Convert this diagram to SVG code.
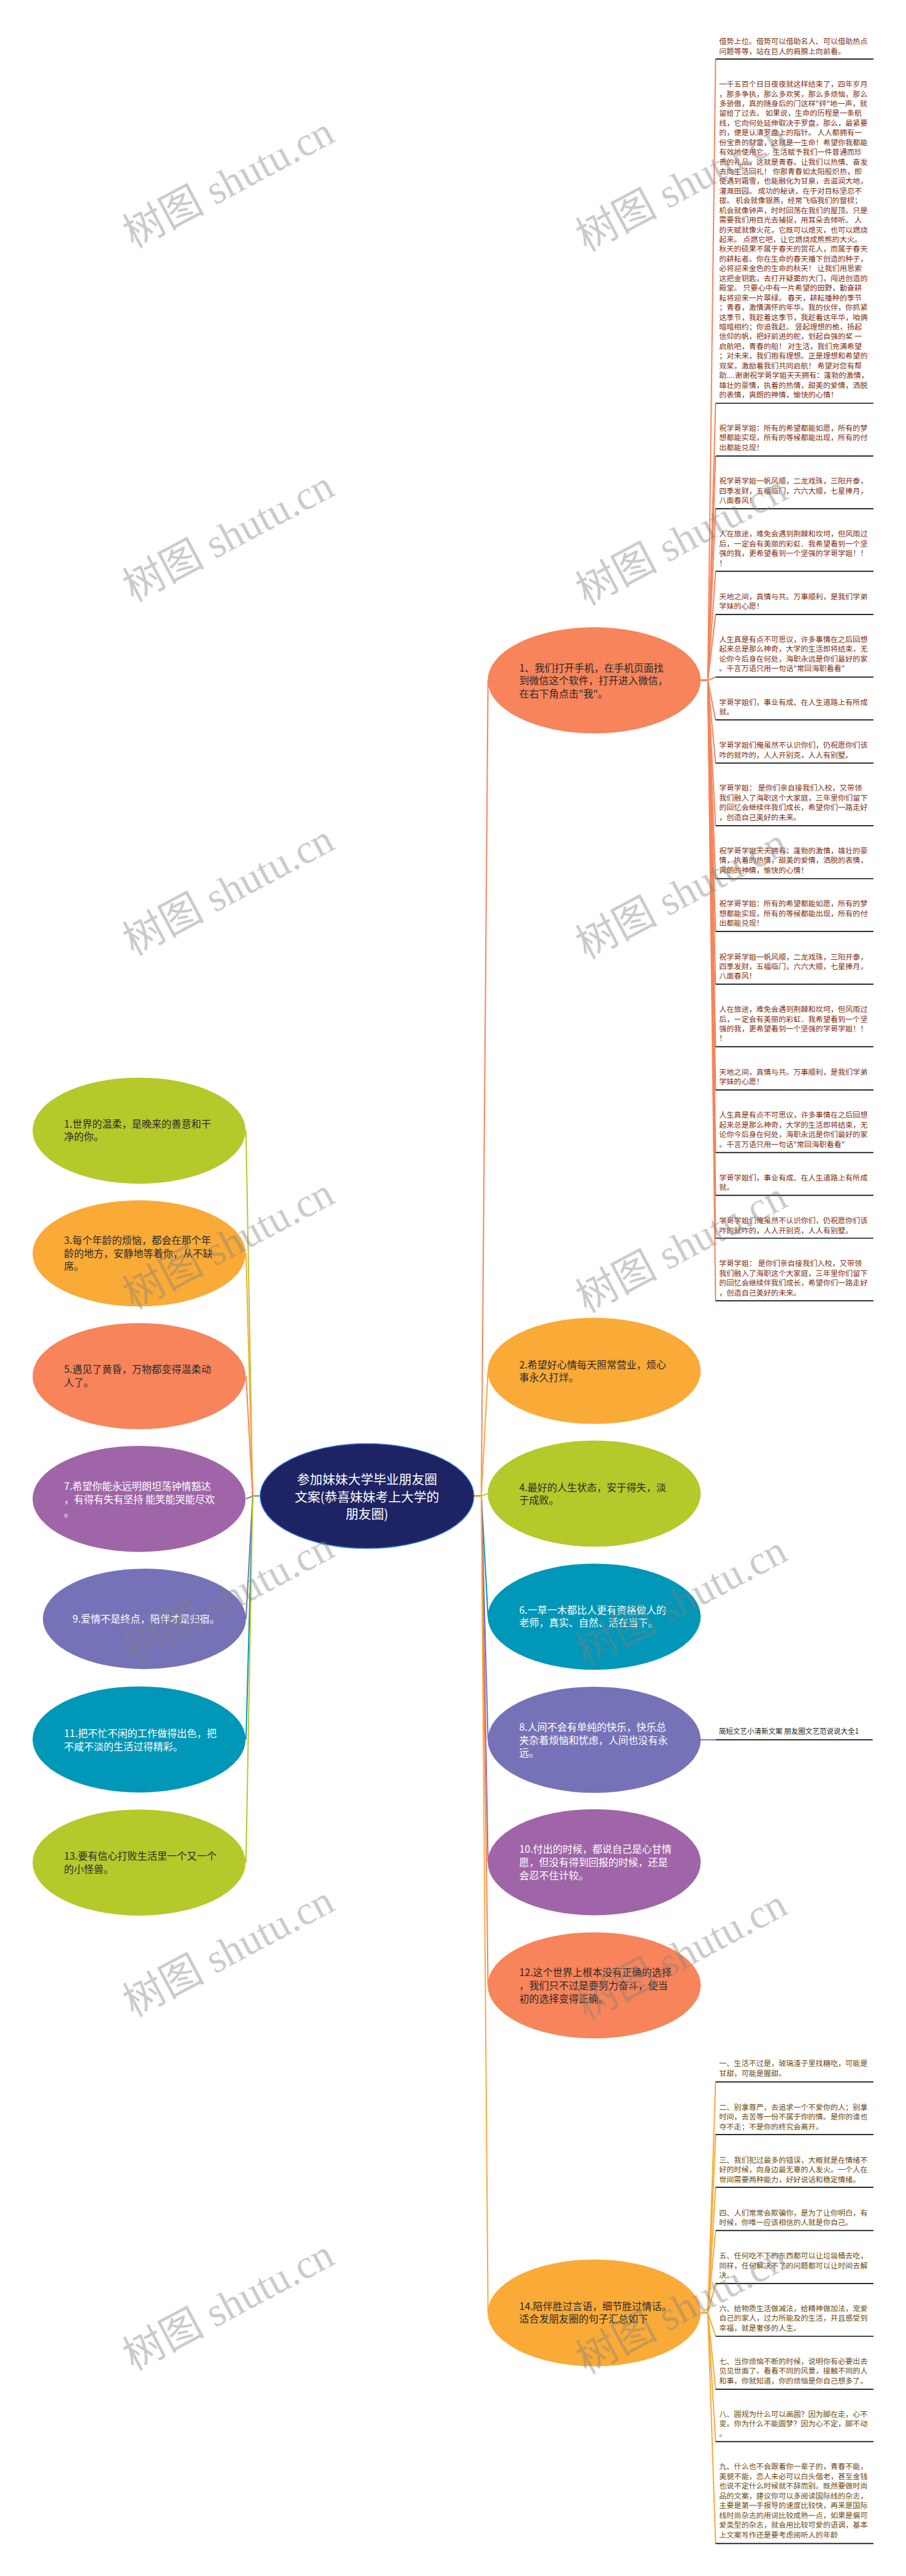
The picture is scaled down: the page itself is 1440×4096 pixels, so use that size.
<svg xmlns="http://www.w3.org/2000/svg" width="1440" height="4096" viewBox="0 0 1440 4096">
<style>
text{font-family:"Noto Sans CJK SC","Noto Sans",sans-serif}
.bx{font-size:21px;fill:#7f2e10}
.bx2{font-size:21px;fill:#6e4a10}
.nd{font-size:28px;fill:#2a2a2a}
.nw{font-size:28px;fill:#ffffff}
.rt{font-size:36px;fill:#ffffff}
.lb{font-size:20px;fill:#222}
.ul{stroke:#111;stroke-width:3}
.cn{fill:none;stroke-width:3.5}
.wm{font-family:"Liberation Serif","Noto Sans CJK SC",serif;font-size:116px;fill:#808080;opacity:0.4}
</style>
<rect width="1440" height="4096" fill="#fff"/>
<g transform="scale(0.5625)">
<g id="connectors">
<path class="cn" stroke="#F7845A" d="M1339 4229H1360L1379 1923"/>
<path class="cn" stroke="#FAAA37" d="M1339 4229H1360L1379 3875"/>
<path class="cn" stroke="#B5C92B" d="M1339 4229H1360L1379 4222"/>
<path class="cn" stroke="#0097B8" d="M1339 4229H1360L1379 4570"/>
<path class="cn" stroke="#7672B8" d="M1339 4229H1360L1379 4918"/>
<path class="cn" stroke="#A065A8" d="M1339 4229H1360L1379 5264"/>
<path class="cn" stroke="#F7845A" d="M1339 4229H1360L1379 5612"/>
<path class="cn" stroke="#FAAA37" d="M1339 4229H1360L1379 6538"/>
<path class="cn" stroke="#B5C92B" d="M734 4229H714L695 3196"/>
<path class="cn" stroke="#FAAA37" d="M734 4229H714L695 3543"/>
<path class="cn" stroke="#F7845A" d="M734 4229H714L695 3890"/>
<path class="cn" stroke="#A065A8" d="M734 4229H714L695 4237"/>
<path class="cn" stroke="#7672B8" d="M734 4229H714L695 4576"/>
<path class="cn" stroke="#0097B8" d="M734 4229H714L695 4917"/>
<path class="cn" stroke="#B5C92B" d="M734 4229H714L695 5265"/>
<g stroke="#F7845A" class="cn">
<path d="M1981 1923H2000L2022 167"/>
<path d="M1981 1923H2000L2022 1140"/>
<path d="M1981 1923H2000L2022 1289"/>
<path d="M1981 1923H2000L2022 1438"/>
<path d="M1981 1923H2000L2022 1615"/>
<path d="M1981 1923H2000L2022 1737"/>
<path d="M1981 1923H2000L2022 1914"/>
<path d="M1981 1923H2000L2022 2035"/>
<path d="M1981 1923H2000L2022 2157"/>
<path d="M1981 1923H2000L2022 2334"/>
<path d="M1981 1923H2000L2022 2484"/>
<path d="M1981 1923H2000L2022 2633"/>
<path d="M1981 1923H2000L2022 2782"/>
<path d="M1981 1923H2000L2022 2959"/>
<path d="M1981 1923H2000L2022 3081"/>
<path d="M1981 1923H2000L2022 3258"/>
<path d="M1981 1923H2000L2022 3379"/>
<path d="M1981 1923H2000L2022 3500"/>
<path d="M1981 1923H2000L2022 3677"/>
</g>
<g stroke="#FAAA37" class="cn">
<path d="M1979 6538H2000L2022 5885"/>
<path d="M1979 6538H2000L2022 6034"/>
<path d="M1979 6538H2000L2022 6183"/>
<path d="M1979 6538H2000L2022 6305"/>
<path d="M1979 6538H2000L2022 6455"/>
<path d="M1979 6538H2000L2022 6604"/>
<path d="M1979 6538H2000L2022 6754"/>
<path d="M1979 6538H2000L2022 6902"/>
<path d="M1979 6538H2000L2022 7190"/>
</g>
<path class="cn" stroke="#7672B8" d="M1979 4918H2022"/>
</g>

<g id="root">
<ellipse cx="1037" cy="4229" rx="302" ry="148" fill="#1E2463" stroke="#3477D9" stroke-width="2.5"/>
<text class="rt" text-anchor="middle" x="1037" y="4196">参加妹妹大学毕业朋友圈<tspan x="1037" dy="48.5">文案(恭喜妹妹考上大学的</tspan><tspan x="1037" dy="48.5">朋友圈)</tspan></text>
</g>

<g id="n1"><ellipse cx="1679" cy="1923" rx="301" ry="150" fill="#F7845A"/>
<text class="nd" x="1467" y="1898">1、我们打开手机，在手机页面找<tspan x="1467" dy="36.6">到微信这个软件，打开进入微信，</tspan><tspan x="1467" dy="36.6">在右下角点击"我"。</tspan></text></g>
<g id="n2"><ellipse cx="1679" cy="3875" rx="301" ry="150" fill="#FAAA37"/>
<text class="nd" x="1467" y="3868">2.希望好心情每天照常营业，烦心<tspan x="1467" dy="36">事永久打烊。</tspan></text></g>
<g id="n4"><ellipse cx="1679" cy="4222" rx="301" ry="150" fill="#B5C92B"/>
<text class="nd" x="1467" y="4215">4.最好的人生状态，安于得失，淡<tspan x="1467" dy="36">于成败。</tspan></text></g>
<g id="n6"><ellipse cx="1679" cy="4570" rx="301" ry="150" fill="#0097B8"/>
<text class="nw" x="1467" y="4562">6.一草一木都比人更有资格做人的<tspan x="1467" dy="36">老师，真实、自然、活在当下。</tspan></text></g>
<g id="n8"><ellipse cx="1679" cy="4918" rx="301" ry="150" fill="#7672B8"/>
<text class="nw" x="1467" y="4893">8.人间不会有单纯的快乐，快乐总<tspan x="1467" dy="36">夹杂着烦恼和忧虑，人间也没有永</tspan><tspan x="1467" dy="36">远。</tspan></text></g>
<g id="n10"><ellipse cx="1679" cy="5264" rx="301" ry="150" fill="#A065A8"/>
<text class="nw" x="1467" y="5238">10.付出的时候，都说自己是心甘情<tspan x="1467" dy="37">愿，但没有得到回报的时候，还是</tspan><tspan x="1467" dy="37">会忍不住计较。</tspan></text></g>
<g id="n12"><ellipse cx="1679" cy="5612" rx="301" ry="150" fill="#F7845A"/>
<text class="nd" x="1467" y="5586">12.这个世界上根本没有正确的选择<tspan x="1467" dy="37">，我们只不过是要努力奋斗，使当</tspan><tspan x="1467" dy="37">初的选择变得正确。</tspan></text></g>
<g id="n14"><ellipse cx="1679" cy="6538" rx="301" ry="151" fill="#FAAA37"/>
<text class="nd" x="1467" y="6529">14.陪伴胜过言语，细节胜过情话。<tspan x="1467" dy="36">适合发朋友圈的句子汇总如下</tspan></text></g>

<g id="l1"><ellipse cx="393" cy="3196" rx="301" ry="150" fill="#B5C92B"/>
<text class="nd" x="181" y="3187">1.世界的温柔，是晚来的善意和干<tspan x="181" dy="36">净的你。</tspan></text></g>
<g id="l3"><ellipse cx="393" cy="3543" rx="301" ry="150" fill="#FAAA37"/>
<text class="nd" x="181" y="3516">3.每个年龄的烦恼，都会在那个年<tspan x="181" dy="37">龄的地方，安静地等着你，从不缺</tspan><tspan x="181" dy="37">席。</tspan></text></g>
<g id="l5"><ellipse cx="393" cy="3890" rx="301" ry="150" fill="#F7845A"/>
<text class="nd" x="181" y="3881">5.遇见了黄昏，万物都变得温柔动<tspan x="181" dy="37">人了。</tspan></text></g>
<g id="l7"><ellipse cx="393" cy="4237" rx="301" ry="150" fill="#A065A8"/>
<text class="nw" x="181" y="4212">7.希望你能永远明朗坦荡钟情豁达<tspan x="181" dy="37">，有得有失有坚持 能笑能哭能尽欢</tspan><tspan x="181" dy="37">。</tspan></text></g>
<g id="l9"><ellipse cx="408" cy="4576" rx="287" ry="142" fill="#7672B8"/>
<text class="nw" x="205" y="4587">9.爱情不是终点，陪伴才是归宿。</text></g>
<g id="l11"><ellipse cx="393" cy="4917" rx="301" ry="150" fill="#0097B8"/>
<text class="nw" x="181" y="4910">11.把不忙不闲的工作做得出色，把<tspan x="181" dy="37">不咸不淡的生活过得精彩。</tspan></text></g>
<g id="l13"><ellipse cx="393" cy="5265" rx="301" ry="150" fill="#B5C92B"/>
<text class="nd" x="181" y="5257">13.要有信心打败生活里一个又一个<tspan x="181" dy="38">的小怪兽。</tspan></text></g>

<g id="lbl"><text class="lb" x="2031" y="4901">简短文艺小清新文案 朋友圈文艺范说说大全1</text><line class="ul" x1="2022" y1="4918" x2="2466" y2="4918"/></g>

<g id="b1"><text class="bx" x="2032" y="124.5">借势上位。借势可以借助名人、可以借助热点<tspan x="2032" dy="27.5">问题等等，站在巨人的肩膀上向前看。</tspan></text><line class="ul" x1="2022" y1="167" x2="2468" y2="167"/></g>
<g id="b2"><text class="bx" x="2032" y="245.5">一千五百个日日夜夜就这样结束了，四年岁月<tspan x="2032" dy="27.44">，那多争执，那么多欢笑，那么多烦恼，那么</tspan><tspan x="2032" dy="27.44">多骄傲，真的随身后的门这样"砰"地一声，就</tspan><tspan x="2032" dy="27.44">留给了过去。 如果说，生命的历程是一条航</tspan><tspan x="2032" dy="27.44">线，它向何处延伸取决于罗盘，那么，最紧要</tspan><tspan x="2032" dy="27.44">的，便是认清罗盘上的指针。 人人都拥有一</tspan><tspan x="2032" dy="27.44">份宝贵的财富，这就是一生命！希望你我都能</tspan><tspan x="2032" dy="27.44">有效地使用它。 生活赋予我们一件普通而珍</tspan><tspan x="2032" dy="27.44">贵的礼品，这就是青春。让我们以热情、奋发</tspan><tspan x="2032" dy="27.44">去向生活回礼！ 你那青春如太阳般炽热，即</tspan><tspan x="2032" dy="27.44">使遇到霜雪，也能融化为甘泉，去滋润大地，</tspan><tspan x="2032" dy="27.44">灌溉田园。 成功的秘诀，在于对目标坚忍不</tspan><tspan x="2032" dy="27.44">拔。 机会就像银燕，经常飞临我们的窗棂；</tspan><tspan x="2032" dy="27.44">机会就像钟声，时时回荡在我们的屋顶。只是</tspan><tspan x="2032" dy="27.44">需要我们用目光去捕捉，用耳朵去倾听。 人</tspan><tspan x="2032" dy="27.44">的天赋就像火花，它既可以熄灭，也可以燃烧</tspan><tspan x="2032" dy="27.44">起来。 点燃它吧，让它燃烧成熊熊的大火。</tspan><tspan x="2032" dy="27.44">秋天的硕果不属于春天的赏花人，而属于春天</tspan><tspan x="2032" dy="27.44">的耕耘者。你在生命的春天播下创造的种子，</tspan><tspan x="2032" dy="27.44">必将迎来金色的生命的秋天！ 让我们用思索</tspan><tspan x="2032" dy="27.44">这把金钥匙，去打开疑窦的大门，闯进创造的</tspan><tspan x="2032" dy="27.44">殿堂。 只要心中有一片希望的田野，勤奋耕</tspan><tspan x="2032" dy="27.44">耘将迎来一片翠绿。 春天，耕耘播种的季节</tspan><tspan x="2032" dy="27.44">；青春，激情满怀的年华。我的伙伴，你抓紧</tspan><tspan x="2032" dy="27.44">这季节，我趁着这季节，我趁着这年华，咱俩</tspan><tspan x="2032" dy="27.44">暗暗相约；你追我赶。 竖起理想的桅，扬起</tspan><tspan x="2032" dy="27.44">信仰的帆，把好前进的舵，划起自强的桨 一</tspan><tspan x="2032" dy="27.44">启航吧，青春的船！ 对生活，我们充满希望</tspan><tspan x="2032" dy="27.44">；对未来，我们抱有理想。正是理想和希望的</tspan><tspan x="2032" dy="27.44">双桨，激励着我们共同启航！ 希望对您有帮</tspan><tspan x="2032" dy="27.44">助....谢谢祝学哥学姐天天拥有：蓬勃的激情，</tspan><tspan x="2032" dy="27.44">雄壮的豪情，执着的热情，甜美的爱情，洒脱</tspan><tspan x="2032" dy="27.44">的表情，爽朗的神情，愉快的心情！</tspan></text><line class="ul" x1="2022" y1="1140" x2="2468" y2="1140"/></g>
<g id="b3"><text class="bx" x="2032" y="1217">祝学哥学姐：所有的希望都能如愿，所有的梦<tspan x="2032" dy="27.5">想都能实现，所有的等候都能出现，所有的付</tspan><tspan x="2032" dy="27.5">出都能兑现！</tspan></text><line class="ul" x1="2022" y1="1289" x2="2468" y2="1289"/></g>
<g id="b4"><text class="bx" x="2032" y="1367.5">祝学哥学姐一帆风顺，二龙戏珠，三阳开泰，<tspan x="2032" dy="27.5">四季发财，五福临门，六六大顺，七星捧月，</tspan><tspan x="2032" dy="27.5">八面春风！</tspan></text><line class="ul" x1="2022" y1="1438" x2="2468" y2="1438"/></g>
<g id="b5"><text class="bx" x="2032" y="1517">人在旅途，难免会遇到荆棘和坎坷，但风雨过<tspan x="2032" dy="27.5">后，一定会有美丽的彩虹．我希望看到一个坚</tspan><tspan x="2032" dy="27.5">强的我，更希望看到一个坚强的学哥学姐！！</tspan><tspan x="2032" dy="27.5">！</tspan></text><line class="ul" x1="2022" y1="1615" x2="2468" y2="1615"/></g>
<g id="b6"><text class="bx" x="2032" y="1694">天地之间，真情与共。万事顺利，是我们学弟<tspan x="2032" dy="27.5">学妹的心愿！</tspan></text><line class="ul" x1="2022" y1="1737" x2="2468" y2="1737"/></g>
<g id="b7"><text class="bx" x="2032" y="1815">人生真是有点不可思议，许多事情在之后回想<tspan x="2032" dy="27.5">起来总是那么神奇，大学的生活即将结束，无</tspan><tspan x="2032" dy="27.5">论你今后身在何处，海职永远是你们最好的家</tspan><tspan x="2032" dy="27.5">。千言万语只用一句话"常回海职看看"</tspan></text><line class="ul" x1="2022" y1="1914" x2="2468" y2="1914"/></g>
<g id="b8"><text class="bx" x="2032" y="1992">学哥学姐们，事业有成、在人生道路上有所成<tspan x="2032" dy="27.5">就。</tspan></text><line class="ul" x1="2022" y1="2035" x2="2468" y2="2035"/></g>
<g id="b9"><text class="bx" x="2032" y="2114">学哥学姐们俺虽然不认识你们，仍祝愿你们该<tspan x="2032" dy="27.5">咋的就咋的，人人开别克，人人有别墅。</tspan></text><line class="ul" x1="2022" y1="2157" x2="2468" y2="2157"/></g>
<g id="b10"><text class="bx" x="2032" y="2235">学哥学姐： 是你们亲自接我们入校，又带领<tspan x="2032" dy="27.5">我们融入了海职这个大家庭，三年里你们留下</tspan><tspan x="2032" dy="27.5">的回忆会继续伴我们成长，希望你们一路走好</tspan><tspan x="2032" dy="27.5">，创造自己美好的未来。</tspan></text><line class="ul" x1="2022" y1="2334" x2="2468" y2="2334"/></g>
<g id="b11"><text class="bx" x="2032" y="2412">祝学哥学姐天天拥有：蓬勃的激情，雄壮的豪<tspan x="2032" dy="27.5">情，执着的热情，甜美的爱情，洒脱的表情，</tspan><tspan x="2032" dy="27.5">爽朗的神情，愉快的心情！</tspan></text><line class="ul" x1="2022" y1="2484" x2="2468" y2="2484"/></g>
<g id="b12"><text class="bx" x="2032" y="2562.5">祝学哥学姐：所有的希望都能如愿，所有的梦<tspan x="2032" dy="27.5">想都能实现，所有的等候都能出现，所有的付</tspan><tspan x="2032" dy="27.5">出都能兑现！</tspan></text><line class="ul" x1="2022" y1="2633" x2="2468" y2="2633"/></g>
<g id="b13"><text class="bx" x="2032" y="2712">祝学哥学姐一帆风顺，二龙戏珠，三阳开泰，<tspan x="2032" dy="27.5">四季发财，五福临门，六六大顺，七星捧月，</tspan><tspan x="2032" dy="27.5">八面春风！</tspan></text><line class="ul" x1="2022" y1="2782" x2="2468" y2="2782"/></g>
<g id="b14"><text class="bx" x="2032" y="2860.5">人在旅途，难免会遇到荆棘和坎坷，但风雨过<tspan x="2032" dy="27.5">后，一定会有美丽的彩虹．我希望看到一个坚</tspan><tspan x="2032" dy="27.5">强的我，更希望看到一个坚强的学哥学姐！！</tspan><tspan x="2032" dy="27.5">！</tspan></text><line class="ul" x1="2022" y1="2959" x2="2468" y2="2959"/></g>
<g id="b15"><text class="bx" x="2032" y="3038">天地之间，真情与共。万事顺利，是我们学弟<tspan x="2032" dy="27.5">学妹的心愿！</tspan></text><line class="ul" x1="2022" y1="3081" x2="2468" y2="3081"/></g>
<g id="b16"><text class="bx" x="2032" y="3159.5">人生真是有点不可思议，许多事情在之后回想<tspan x="2032" dy="27.5">起来总是那么神奇，大学的生活即将结束，无</tspan><tspan x="2032" dy="27.5">论你今后身在何处，海职永远是你们最好的家</tspan><tspan x="2032" dy="27.5">。千言万语只用一句话"常回海职看看"</tspan></text><line class="ul" x1="2022" y1="3258" x2="2468" y2="3258"/></g>
<g id="b17"><text class="bx" x="2032" y="3336.5">学哥学姐们，事业有成、在人生道路上有所成<tspan x="2032" dy="27.5">就。</tspan></text><line class="ul" x1="2022" y1="3379" x2="2468" y2="3379"/></g>
<g id="b18"><text class="bx" x="2032" y="3458.5">学哥学姐们俺虽然不认识你们，仍祝愿你们该<tspan x="2032" dy="27.5">咋的就咋的，人人开别克，人人有别墅。</tspan></text><line class="ul" x1="2022" y1="3500" x2="2468" y2="3500"/></g>
<g id="b19"><text class="bx" x="2032" y="3579.5">学哥学姐： 是你们亲自接我们入校，又带领<tspan x="2032" dy="27.5">我们融入了海职这个大家庭，三年里你们留下</tspan><tspan x="2032" dy="27.5">的回忆会继续伴我们成长，希望你们一路走好</tspan><tspan x="2032" dy="27.5">，创造自己美好的未来。</tspan></text><line class="ul" x1="2022" y1="3677" x2="2468" y2="3677"/></g>

<g id="c1"><text class="bx2" x="2032" y="5840.5">一、生活不过是，玻璃渣子里找糖吃，可能是<tspan x="2032" dy="27.5">甘甜，可能是腥甜。</tspan></text><line class="ul" x1="2022" y1="5885" x2="2468" y2="5885"/></g>
<g id="c2"><text class="bx2" x="2032" y="5964">二、别拿尊严，去追求一个不爱你的人；别拿<tspan x="2032" dy="27.5">时间，去苦等一份不属于你的情。是你的谁也</tspan><tspan x="2032" dy="27.5">夺不走；不是你的终究会离开。</tspan></text><line class="ul" x1="2022" y1="6034" x2="2468" y2="6034"/></g>
<g id="c3"><text class="bx2" x="2032" y="6113">三、我们犯过最多的错误，大概就是在情绪不<tspan x="2032" dy="27.5">好的时候，向身边最无辜的人发火。一个人在</tspan><tspan x="2032" dy="27.5">世间需要两种能力，好好说话和稳定情绪。</tspan></text><line class="ul" x1="2022" y1="6183" x2="2468" y2="6183"/></g>
<g id="c4"><text class="bx2" x="2032" y="6262.5">四、人们常常会欺骗你，是为了让你明白，有<tspan x="2032" dy="27.5">时候，你唯一应该相信的人就是你自己。</tspan></text><line class="ul" x1="2022" y1="6305" x2="2468" y2="6305"/></g>
<g id="c5"><text class="bx2" x="2032" y="6384.5">五、任何吃不下的东西都可以让垃圾桶去吃，<tspan x="2032" dy="27.5">同样，任何解决不了的问题都可以让时间去解</tspan><tspan x="2032" dy="27.5">决。</tspan></text><line class="ul" x1="2022" y1="6455" x2="2468" y2="6455"/></g>
<g id="c6"><text class="bx2" x="2032" y="6533">六、给物质生活做减法，给精神做加法，宠爱<tspan x="2032" dy="27.5">自己的家人，过力所能及的生活，并且感受到</tspan><tspan x="2032" dy="27.5">幸福，就是奢侈的人生。</tspan></text><line class="ul" x1="2022" y1="6604" x2="2468" y2="6604"/></g>
<g id="c7"><text class="bx2" x="2032" y="6682">七、当你烦恼不断的时候，说明你有必要出去<tspan x="2032" dy="27.5">见见世面了。看看不同的风景，接触不同的人</tspan><tspan x="2032" dy="27.5">和事，你就知道，你的烦恼是你自己想多了。</tspan></text><line class="ul" x1="2022" y1="6754" x2="2468" y2="6754"/></g>
<g id="c8"><text class="bx2" x="2032" y="6831.5">八、圆规为什么可以画圆？因为脚在走，心不<tspan x="2032" dy="27.5">变。你为什么不能圆梦？因为心不定，脚不动</tspan><tspan x="2032" dy="27.5">。</tspan></text><line class="ul" x1="2022" y1="6902" x2="2468" y2="6902"/></g>
<g id="c9"><text class="bx2" x="2032" y="6980">九、什么也不会跟着你一辈子的，青春不能，<tspan x="2032" dy="27.5">美貌不能，恋人未必可以白头偕老，甚至金钱</tspan><tspan x="2032" dy="27.5">也说不定什么时候就不辞而别。既然要做时尚</tspan><tspan x="2032" dy="27.5">品的文案，建议你可以多阅读国际线的杂志，</tspan><tspan x="2032" dy="27.5">主要是第一手报导的速度比较快，再来是国际</tspan><tspan x="2032" dy="27.5">线时尚杂志的用词比较成熟一点，如果是偏可</tspan><tspan x="2032" dy="27.5">爱类型的杂志，就会用比较可爱的语调，基本</tspan><tspan x="2032" dy="27.5">上文案写作还是要考虑阅听人的年龄</tspan></text><line class="ul" x1="2022" y1="7190" x2="2468" y2="7190"/></g>

<g id="watermarks" text-anchor="middle">
<text class="wm" transform="translate(645 515) rotate(-28)" y="40">树图 shutu.cn</text>
<text class="wm" transform="translate(645 1515) rotate(-28)" y="40">树图 shutu.cn</text>
<text class="wm" transform="translate(645 2515) rotate(-28)" y="40">树图 shutu.cn</text>
<text class="wm" transform="translate(645 3515) rotate(-28)" y="40">树图 shutu.cn</text>
<text class="wm" transform="translate(645 4515) rotate(-28)" y="40">树图 shutu.cn</text>
<text class="wm" transform="translate(645 5515) rotate(-28)" y="40">树图 shutu.cn</text>
<text class="wm" transform="translate(645 6515) rotate(-28)" y="40">树图 shutu.cn</text>
<text class="wm" transform="translate(1925 525) rotate(-28)" y="40">树图 shutu.cn</text>
<text class="wm" transform="translate(1925 1525) rotate(-28)" y="40">树图 shutu.cn</text>
<text class="wm" transform="translate(1925 2525) rotate(-28)" y="40">树图 shutu.cn</text>
<text class="wm" transform="translate(1925 3525) rotate(-28)" y="40">树图 shutu.cn</text>
<text class="wm" transform="translate(1925 4525) rotate(-28)" y="40">树图 shutu.cn</text>
<text class="wm" transform="translate(1925 5525) rotate(-28)" y="40">树图 shutu.cn</text>
<text class="wm" transform="translate(1925 6525) rotate(-28)" y="40">树图 shutu.cn</text>
</g>
</g>
</svg>
